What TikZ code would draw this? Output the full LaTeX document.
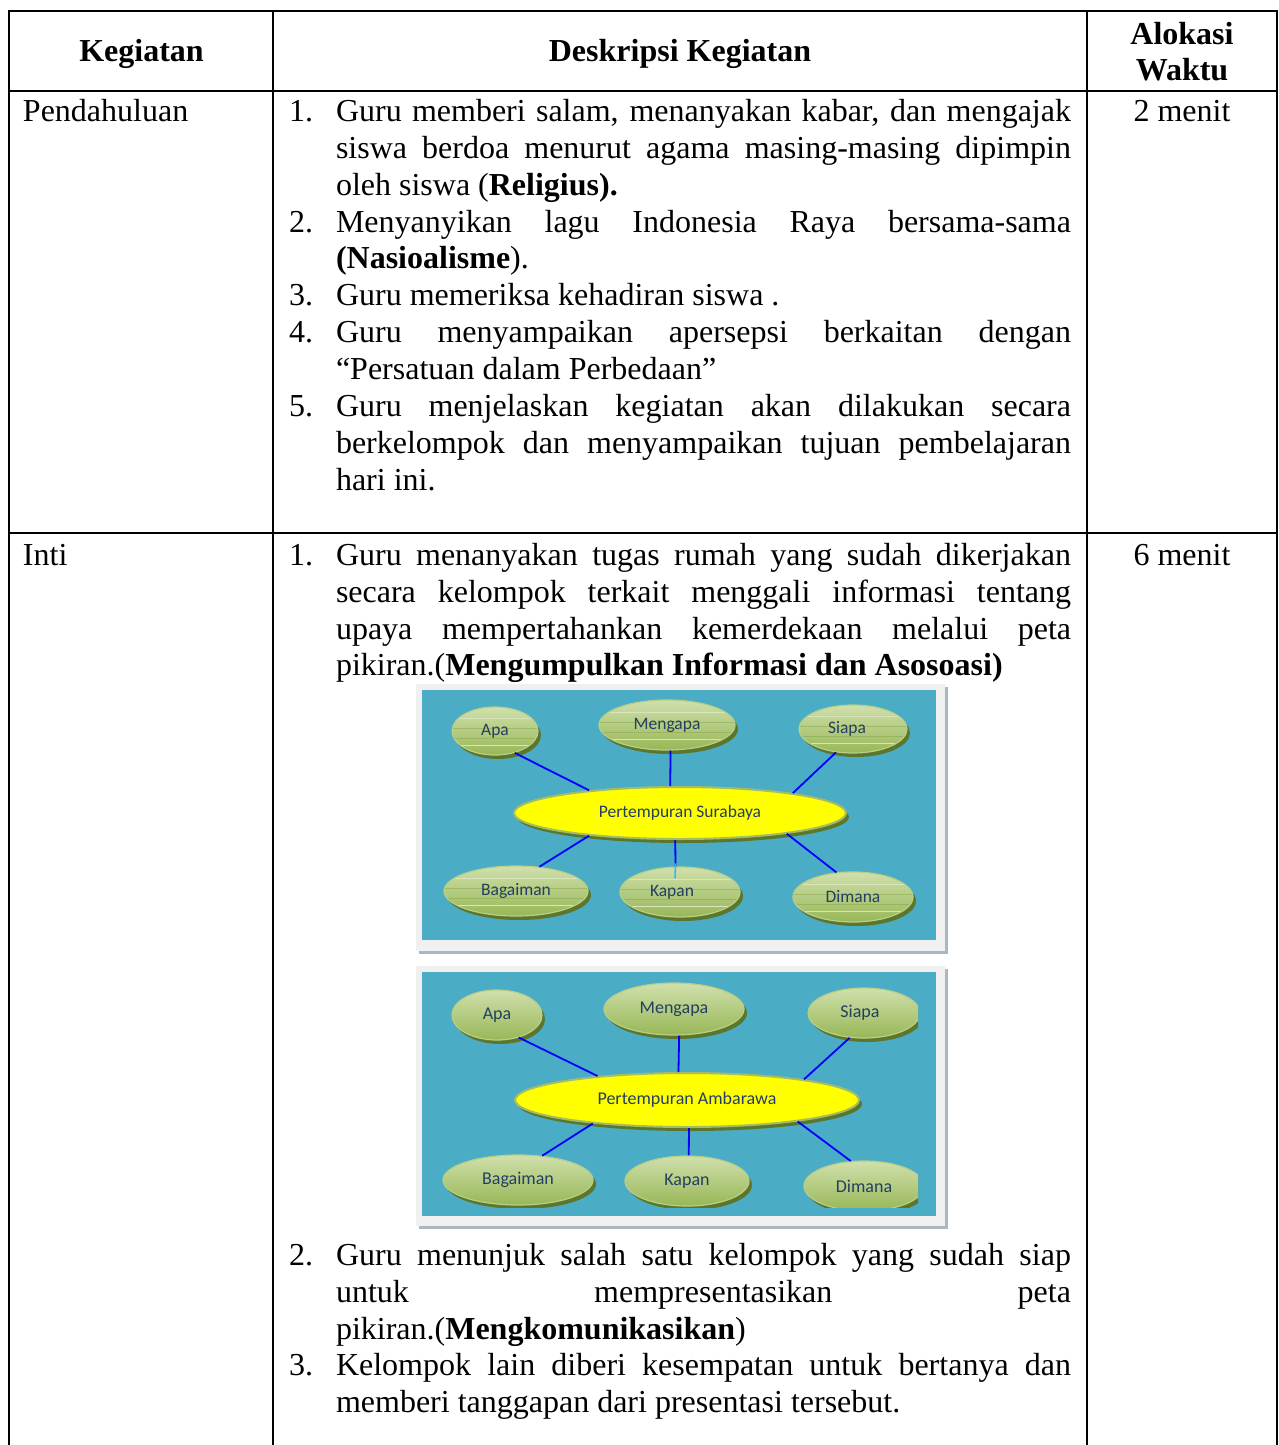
\documentclass[tikz,border=0pt]{standalone}
\usepackage{fontspec}
\setmainfont{Liberation Serif}
\newfontfamily\calib{Carlito}
\usetikzlibrary{shapes.geometric,shadows}
\definecolor{tealbg}{HTML}{4BACC6}
\definecolor{framefill}{HTML}{F0F0F0}
\definecolor{frameshadow}{HTML}{A9B8C2}
\definecolor{olivetop}{HTML}{D0E0AC}
\definecolor{olivebot}{HTML}{98B757}
\definecolor{oliveedge}{HTML}{B9CE86}
\definecolor{oliveshadow}{HTML}{5C772C}
\definecolor{hubedge}{HTML}{A3BC66}
\definecolor{navytext}{HTML}{243F60}
\definecolor{linkblue}{HTML}{0000FF}
\definecolor{cyanlink}{HTML}{33BBEE}
\definecolor{stripedark}{HTML}{8AA64A}
\definecolor{stripelight}{HTML}{D8E5BC}
\tikzset{
  txt/.style={anchor=base west, inner sep=0pt, outer sep=0pt, font=\fontsize{32}{37}\selectfont},
  ctxt/.style={anchor=base, inner sep=0pt, outer sep=0pt, font=\fontsize{32}{37}\selectfont},
  hdr/.style={anchor=base, inner sep=0pt, outer sep=0pt, font=\fontsize{32}{37}\selectfont\bfseries},
  grid/.style={line width=2pt, line cap=rect},
  bub/.style={ellipse, inner sep=0pt, top color=olivetop, bottom color=olivebot, draw=oliveedge,
    line width=1.2pt, text=navytext, font=\calib\fontsize{17.5}{20}\selectfont,
    drop shadow={shadow xshift=3pt, shadow yshift=-4pt, fill=oliveshadow, opacity=1}},
  bubB/.style={bub, font=\calib\fontsize{18}{20}\selectfont},
  striped/.style={path picture={
    \draw[stripelight, line width=0.8pt] ([yshift=13pt]path picture bounding box.west) -- ([yshift=13pt]path picture bounding box.east);
    \draw[stripedark, line width=0.8pt, opacity=.5] ([yshift=3pt]path picture bounding box.west) -- ([yshift=3pt]path picture bounding box.east);
    \draw[stripedark, line width=0.8pt, opacity=.5] ([yshift=-7pt]path picture bounding box.west) -- ([yshift=-7pt]path picture bounding box.east);
    \draw[stripelight, line width=0.8pt] ([yshift=-14pt]path picture bounding box.west) -- ([yshift=-14pt]path picture bounding box.east);
  }},
  hub/.style={bub, top color=yellow, bottom color=yellow, draw=hubedge, line width=2pt},
  hubB/.style={hub, font=\calib\fontsize{18}{20}\selectfont},
  link/.style={draw=linkblue, line width=1.8pt},
}
\begin{document}
\begin{tikzpicture}[x=1pt,y=-1pt]
\useasboundingbox[fill=white] (0,0) rectangle (1278,1445);

% ---------- table grid ----------
\draw[grid] (9,11) -- (1277,11);
\draw[grid] (9,91) -- (1277,91);
\draw[grid] (9,533) -- (1277,533);
\draw[grid] (9,11) -- (9,1446);
\draw[grid] (273,11) -- (273,1446);
\draw[grid] (1087,11) -- (1087,1446);
\draw[grid] (1277,11) -- (1277,1446);

% ---------- header ----------
\node[hdr] (hk) at (141.5,62) {Kegiatan};
\node[hdr] (hd) at (680,62) {Deskripsi Kegiatan};
\node[hdr] (ha) at (1182,45) {Alokasi};
\node[hdr] (hw) at (1182,81) {Waktu};

% ---------- row 1 ----------
\node[txt] (k1) at (23,121) {Pendahuluan};
\node[ctxt] (w1) at (1182,121) {2 menit};

\node[txt] (a1) at (289,121) {1.};
\node[txt] (a1a) at (336,121) {\makebox[735pt][s]{Guru memberi salam, menanyakan kabar, dan mengajak}};
\node[txt] (a1b) at (336,158) {\makebox[735pt][s]{siswa berdoa menurut agama masing-masing dipimpin}};
\node[txt] (a1c) at (336,195) {oleh siswa (\textbf{Religius).}};
\node[txt] (a2) at (289,232) {2.};
\node[txt] (a2a) at (336,232) {\makebox[735pt][s]{Menyanyikan lagu Indonesia Raya bersama-sama}};
\node[txt] (a2b) at (336,268) {\textbf{(Nasioalisme}).};
\node[txt] (a3) at (289,305) {3.};
\node[txt] (a3a) at (336,305) {Guru memeriksa kehadiran siswa .};
\node[txt] (a4) at (289,342) {4.};
\node[txt] (a4a) at (336,342) {\makebox[735pt][s]{Guru menyampaikan apersepsi berkaitan dengan}};
\node[txt] (a4b) at (336,379) {“Persatuan dalam Perbedaan”};
\node[txt] (a5) at (289,416) {5.};
\node[txt] (a5a) at (336,416) {\makebox[735pt][s]{Guru menjelaskan kegiatan akan dilakukan secara}};
\node[txt] (a5b) at (336,453) {\makebox[735pt][s]{berkelompok dan menyampaikan tujuan pembelajaran}};
\node[txt] (a5c) at (336,490) {hari ini.};

% ---------- row 2 ----------
\node[txt] (k2) at (23,565) {Inti};
\node[ctxt] (w2) at (1182,565) {6 menit};

\node[txt] (b1) at (289,565) {1.};
\node[txt] (b1a) at (336,565) {\makebox[735pt][s]{Guru menanyakan tugas rumah yang sudah dikerjakan}};
\node[txt] (b1b) at (336,602) {\makebox[735pt][s]{secara kelompok terkait menggali informasi tentang}};
\node[txt] (b1c) at (336,639) {\makebox[735pt][s]{upaya mempertahankan kemerdekaan melalui peta}};
\node[txt] (b1d) at (336,675) {pikiran.(\textbf{Mengumpulkan Informasi dan Asosoasi)}};

\node[txt] (b2) at (289,1265) {2.};
\node[txt] (b2a) at (336,1265) {\makebox[735pt][s]{Guru menunjuk salah satu kelompok yang sudah siap}};
\node[txt] (b2b) at (336,1302) {\makebox[735pt][s]{untuk mempresentasikan peta}};
\node[txt] (b2c) at (336,1339) {pikiran.(\textbf{Mengkomunikasikan})};
\node[txt] (b3) at (289,1375) {3.};
\node[txt] (b3a) at (336,1375) {\makebox[735pt][s]{Kelompok lain diberi kesempatan untuk bertanya dan}};
\node[txt] (b3b) at (336,1412) {memberi tanggapan dari presentasi tersebut.};

% ---------- mind map 1 ----------
\fill[frameshadow] (419,687) rectangle (948,954);
\fill[framefill] (416,684) rectangle (945,951);
\fill[tealbg] (422,690) rectangle (936,940);

\node[bub, striped, minimum width=86pt, minimum height=48pt] (apa1) at (495,731) {Apa};
\node[bub, striped, minimum width=136pt, minimum height=50pt] (men1) at (667,725) {Mengapa};
\node[bub, striped, minimum width=108pt, minimum height=48pt] (sia1) at (853,729) {Siapa\hspace*{12pt}};
\node[hub, minimum width=332pt, minimum height=52pt] (cen1) at (680,813) {Pertempuran Surabaya};
\node[bub, striped, minimum width=144pt, minimum height=50pt] (bag1) at (516,891) {Bagaiman};
\node[bub, striped, minimum width=120pt, minimum height=50pt] (kap1) at (680,892) {Kapan\hspace*{16pt}};
\node[bub, striped, minimum width=120pt, minimum height=50pt] (dim1) at (853,897) {Dimana};

\draw[link] (apa1.-48) -- (cen1.166);
\draw[link] (men1.-82) -- (cen1.110);
\draw[link] (sia1.-126.5) -- (cen1.10);
\draw[link] (bag1.46) -- (cen1.-166);
\draw[link] (cen1.-100) -- (kap1.100);
\draw[draw=cyanlink, line width=1.6pt] ([yshift=3pt]kap1.100) -- ([yshift=-12pt,xshift=-0.5pt]kap1.100);
\draw[link] (cen1.-11) -- (dim1.124);

% ---------- mind map 2 ----------
\fill[frameshadow] (419,969) rectangle (948,1229);
\fill[framefill] (416,966) rectangle (945,1226);
\fill[tealbg] (422,972) rectangle (936,1216);

\begin{scope}
\clip (422,972) rectangle (918,1207);
\node[bubB, minimum width=90pt, minimum height=50pt] (apa2) at (497,1015) {Apa};
\node[bubB, minimum width=140pt, minimum height=52pt] (men2) at (674,1009) {Mengapa};
\node[bubB, minimum width=112pt, minimum height=50pt] (sia2) at (864,1013) {Siapa\hspace*{8pt}};
\node[hubB, minimum width=344pt, minimum height=54pt] (cen2) at (687,1100) {Pertempuran Ambarawa};
\node[bubB, minimum width=150pt, minimum height=50pt] (bag2) at (518,1180) {Bagaiman};
\node[bubB, minimum width=124pt, minimum height=50pt] (kap2) at (687,1181) {Kapan};
\node[bubB, minimum width=120pt, minimum height=50pt] (dim2) at (864,1186) {Dimana};
\end{scope}

\draw[link] (apa2.-46.5) -- (cen2.165.5);
\draw[link] (men2.-79) -- (cen2.107);
\draw[link] (sia2.-120.6) -- (cen2.10);
\draw[link] (bag2.45) -- (cen2.-166);
\draw[link] (cen2.-86) -- (kap2.86);
\draw[link] (cen2.-11) -- (dim2.118);

\end{tikzpicture}
\end{document}
